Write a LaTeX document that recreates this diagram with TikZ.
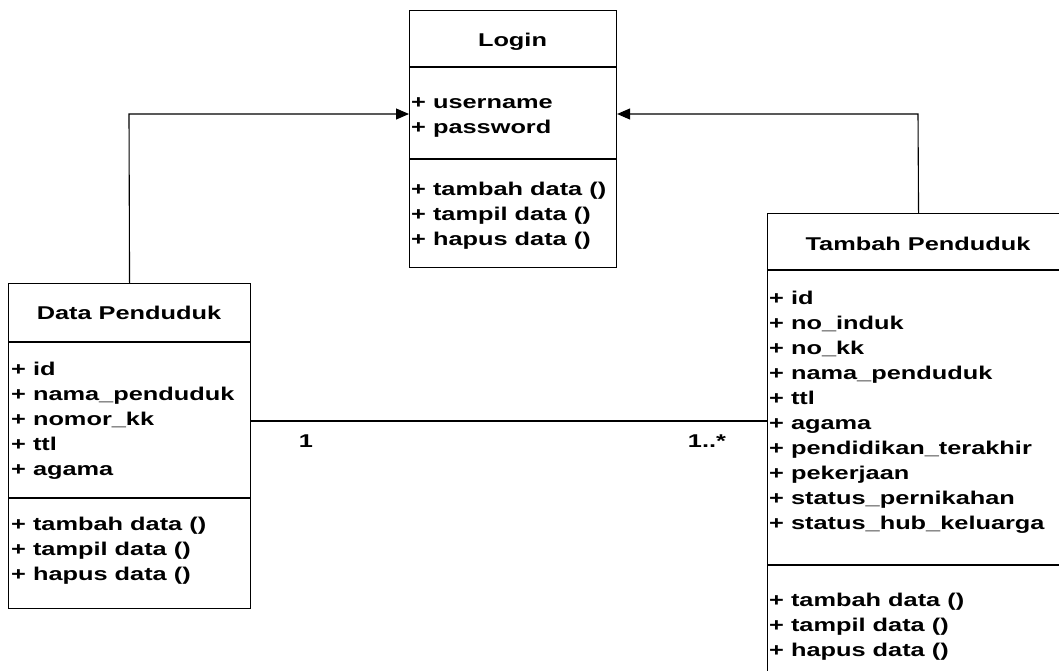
\documentclass[tikz,border=0pt]{standalone}
\usepackage{fontspec}
\setmainfont{Liberation Sans}[FakeStretch=1.37]
\usetikzlibrary{arrows.meta}
\tikzset{
  box/.style={draw, line width=1.1pt, anchor=north west, inner sep=0pt},
  divider/.style={line width=1.1pt},
  conn/.style={line width=1.1pt},
  arr/.style={conn, -{Triangle[length=13pt,width=11pt]}},
  txt/.style={anchor=base west, inner sep=0pt, font=\bfseries\fontsize{18.5}{25}\selectfont},
  ttl/.style={anchor=base, inner sep=0pt, font=\bfseries\fontsize{18.5}{25}\selectfont},
}
\begin{document}
\begin{tikzpicture}[x=1pt,y=-1pt]
\useasboundingbox (0,0) rectangle (1059,670);
% Login
\node[box, minimum width=207pt, minimum height=257pt] (login) at (409,10) {};
\draw[divider] (409,67) -- (616,67);
\draw[divider] (409,159) -- (616,159);
\node[ttl] (lt) at (512.5,46) {Login};
\node[txt] (l1) at (411,108) {+ username};
\node[txt] (l2) at (411,133) {+ password};
\node[txt] (l3) at (411,195) {+ tambah data ()};
\node[txt] (l4) at (411,220) {+ tampil data ()};
\node[txt] (l5) at (411,245) {+ hapus data ()};
% Data Penduduk
\node[box, minimum width=242pt, minimum height=325pt] (data) at (8,283) {};
\draw[divider] (8,342) -- (250,342);
\draw[divider] (8,498) -- (250,498);
\node[ttl] (dt) at (129,319) {Data Penduduk};
\node[txt] (d1) at (11,375) {+ id};
\node[txt] (d2) at (11,400) {+ nama\_penduduk};
\node[txt] (d3) at (11,425) {+ nomor\_kk};
\node[txt] (d4) at (11,450) {+ ttl};
\node[txt] (d5) at (11,475) {+ agama};
\node[txt] (d6) at (11,530) {+ tambah data ()};
\node[txt] (d7) at (11,555) {+ tampil data ()};
\node[txt] (d8) at (11,580) {+ hapus data ()};
% Tambah Penduduk
\node[box, minimum width=302pt, minimum height=490pt] (tambah) at (767,213) {};
\draw[divider] (767,270) -- (1069,270);
\draw[divider] (767,565) -- (1069,565);
\node[ttl] (tt) at (918,250) {Tambah Penduduk};
\node[txt] (t1) at (769,304) {+ id};
\node[txt] (t2) at (769,329) {+ no\_induk};
\node[txt] (t3) at (769,354) {+ no\_kk};
\node[txt] (t4) at (769,379) {+ nama\_penduduk};
\node[txt] (t5) at (769,404) {+ ttl};
\node[txt] (t6) at (769,429) {+ agama};
\node[txt] (t7) at (769,454) {+ pendidikan\_terakhir};
\node[txt] (t8) at (769,479) {+ pekerjaan};
\node[txt] (t9) at (769,504) {+ status\_pernikahan};
\node[txt] (t10) at (769,529) {+ status\_hub\_keluarga};
\node[txt] (t11) at (769,606) {+ tambah data ()};
\node[txt] (t12) at (769,631) {+ tampil data ()};
\node[txt] (t13) at (769,656) {+ hapus data ()};
% connectors
\coordinate (jl) at (129,114);
\coordinate (jr) at (918,114);
\draw[arr] (data.north) -- (jl) -- (jl -| login.west);
\draw[arr] (tambah.north) -- (jr) -- (jr -| login.east);
\coordinate (as) at (0,421);
\draw[conn] (as -| data.east) -- (as -| tambah.west);
\node[ttl] (m1) at (306,447) {1};
\node[ttl] (m2) at (707,447) {1..*};
\end{tikzpicture}
\end{document}
